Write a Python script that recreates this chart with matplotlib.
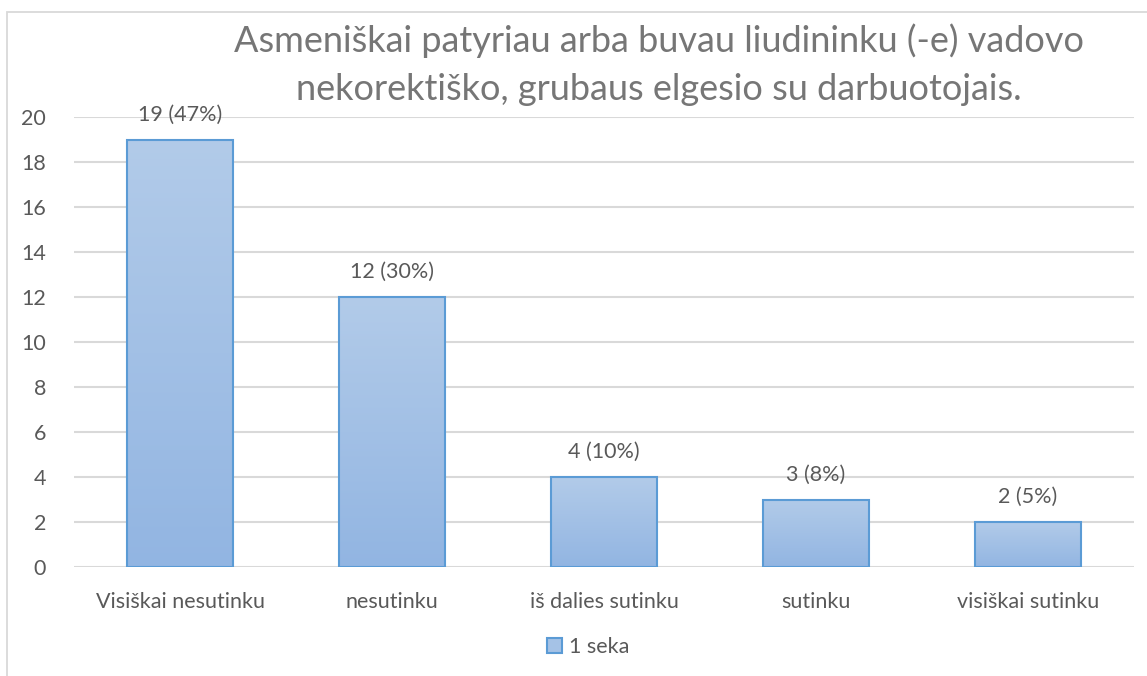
import numpy as np
import matplotlib
matplotlib.use("Agg")
import matplotlib.pyplot as plt
from matplotlib.patches import Rectangle
from matplotlib.colors import LinearSegmentedColormap

plt.rcParams["font.family"] = ["Lato", "DejaVu Sans"]

title_lines = ["Asmeniškai patyriau arba buvau liudininku (-e) vadovo",
               "nekorektiško, grubaus elgesio su darbuotojais."]
categories = ["Visiškai nesutinku", "nesutinku", "iš dalies sutinku",
              "sutinku", "visiškai sutinku"]
counts = [19, 12, 4, 3, 2]
percents = [47, 30, 10, 8, 5]
series_name = "1 seka"

TEXT = "#595959"
TITLE_C = "#767676"
GRID = "#d9d9d9"
EDGE = "#5b9bd5"
grad = LinearSegmentedColormap.from_list("bar", ["#92b5e2", "#b2cbe9"])

W, H = 1147, 676
fig = plt.figure(figsize=(W / 100, H / 100), dpi=100)
ax = fig.add_axes([74 / W, 1 - 567 / H, (1134 - 74) / W, (567 - 117) / H])

# chart frame (runs off the right / bottom edge in the reference)
fig.patches.append(Rectangle((7 / W, -0.05), 1.2, 1 - 12 / H + 0.05,
                             transform=fig.transFigure, fill=False,
                             edgecolor=GRID, lw=1.3))

x = np.arange(len(categories))
bars = ax.bar(x, counts, width=0.5, facecolor="none", edgecolor=EDGE,
              lw=1.5, zorder=3)
g = np.linspace(0, 1, 256).reshape(-1, 1)
for b in bars:
    x0, y0 = b.get_x(), b.get_y()
    ax.imshow(g, cmap=grad, origin="lower", aspect="auto", zorder=2,
              extent=[x0, x0 + b.get_width(), y0, y0 + b.get_height()])

for xi, c, p in zip(x, counts, percents):
    ax.text(xi, c + 1.1, f"{c} ({p}%)", ha="center", va="center",
            fontsize=15.5, color=TEXT)

ax.set_xlim(-0.5, len(categories) - 0.5)
ax.set_ylim(0, 20)
ax.set_yticks(range(0, 21, 2))
ax.set_xticks(x)
ax.set_xticklabels(categories)
ax.tick_params(length=0, labelsize=15.5, labelcolor=TEXT)
ax.tick_params(axis="x", pad=18)
ax.tick_params(axis="y", pad=20)
ax.grid(axis="y", color=GRID, lw=1.5, zorder=0)
ax.set_axisbelow(True)
for s in ax.spines.values():
    s.set_visible(False)

for line, base in zip(title_lines, (52, 100)):
    fig.text(659 / W, 1 - base / H, line, ha="center", va="baseline",
             fontsize=26, color=TITLE_C)

handle = Rectangle((0, 0), 1, 1, facecolor="#a5c2e6", edgecolor=EDGE, lw=1.5)
fig.legend([handle], [series_name], loc="center",
           bbox_to_anchor=(588 / W, 1 - 647 / H), frameon=False,
           fontsize=15.5, labelcolor=TEXT, handlelength=0.7, handleheight=0.7,
           handletextpad=0.3)

fig.savefig("out.png", dpi=100, facecolor="white")
